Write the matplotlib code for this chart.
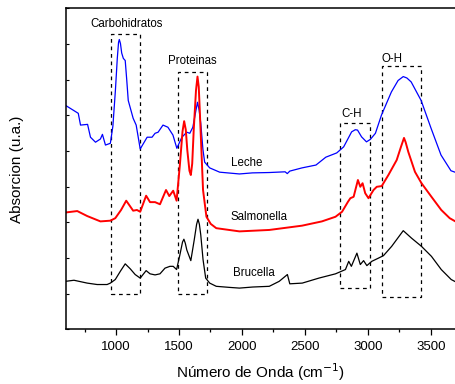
import matplotlib
matplotlib.use("Agg")
import matplotlib.pyplot as plt
from matplotlib.patches import Rectangle
from matplotlib.ticker import MultipleLocator

plt.rcParams['font.family'] = ['Liberation Sans', 'DejaVu Sans']

# Leche (blue)
leche_x = [600, 700, 718, 774, 797, 837, 876, 892, 916, 955, 975, 995, 1010, 1020, 1026,
           1035, 1045, 1058, 1073, 1085,
           1097, 1136, 1160, 1192, 1247, 1286, 1310, 1334, 1373, 1412, 1452, 1483,
           1523, 1562, 1586, 1610, 1635, 1647, 1660, 1673, 1690, 1704, 1744, 1823, 1980,
           2083, 2217, 2343, 2360, 2380, 2477, 2588, 2666, 2753, 2808, 2871, 2900, 2918,
           2950, 2989, 3020, 3060, 3108, 3187, 3240, 3281, 3310, 3344, 3423, 3502, 3581,
           3660, 3700]
leche_y = [6.28, 6.06, 5.73, 5.75, 5.39, 5.25, 5.34, 5.47, 5.17, 5.22, 5.70, 6.70, 7.60, 8.05,
           8.13, 8.02, 7.75, 7.60, 7.54, 7.00,
           6.42, 5.92, 5.73, 5.06, 5.39, 5.39, 5.50, 5.53, 5.73, 5.67, 5.45, 5.08,
           5.39, 5.53, 5.50, 5.67, 6.15, 6.37, 6.15, 5.78, 5.05, 4.69, 4.53, 4.41, 4.36,
           4.39, 4.40, 4.42, 4.37, 4.44, 4.53, 4.61, 4.83, 4.95, 5.12, 5.54, 5.60, 5.59,
           5.40, 5.26, 5.33, 5.50, 6.01, 6.66, 6.98, 7.09, 7.05, 6.94, 6.42, 5.64, 4.89,
           4.45, 4.40]

# Salmonella (red)
salm_x = [600, 692, 771, 876, 955, 994, 1040, 1081, 1136, 1166, 1192, 1239, 1270, 1310, 1349,
          1397, 1423, 1454, 1481, 1507, 1528, 1541, 1554, 1566, 1583, 1594, 1605, 1617,
          1635, 1647, 1657, 1665, 1691, 1718,
          1752, 1796, 1980, 2217, 2477, 2635, 2743, 2795, 2842, 2861, 2887, 2921, 2940,
          2958, 2979, 3005, 3045, 3071, 3110, 3163, 3229, 3263, 3287, 3300, 3321, 3374, 3426,
          3505, 3583, 3650, 3700]
salm_y = [3.28, 3.32, 3.18, 3.03, 3.05, 3.12, 3.35, 3.61, 3.33, 3.35, 3.30, 3.75, 3.57, 3.57, 3.51,
          3.91, 3.74, 3.89, 3.61, 4.61, 5.55, 5.84, 5.60, 5.03, 4.45, 4.33, 4.65, 5.59,
          6.70, 7.09, 6.80, 6.15, 3.91, 3.16,
          2.96, 2.84, 2.75, 2.79, 2.91, 3.03, 3.16, 3.30, 3.58, 3.68, 3.72, 4.19, 4.00,
          4.10, 3.82, 3.68, 3.91, 4.00, 4.02, 4.33, 4.75, 5.12, 5.37, 5.25, 4.98, 4.42, 4.10,
          3.72, 3.35, 3.12, 3.02]

# Brucella (black)
bruc_x = [600, 666, 771, 850, 929, 955, 994, 1034, 1073, 1113, 1152, 1192, 1239, 1270,
          1310, 1349, 1389, 1428, 1454, 1481, 1507, 1528, 1539, 1550, 1562, 1594, 1621,
          1640, 1651, 1662, 1673,
          1691, 1712, 1744, 1796, 1900, 1980, 2085, 2217, 2296, 2361, 2380, 2479, 2611,
          2743, 2822, 2848, 2869, 2913, 2940, 2966, 2992, 3031, 3084, 3124, 3189, 3281,
          3347, 3426, 3505, 3583, 3662, 3700]
bruc_y = [1.35, 1.38, 1.30, 1.26, 1.26, 1.30, 1.40, 1.63, 1.84, 1.70, 1.54, 1.44, 1.65, 1.56,
          1.53, 1.56, 1.72, 1.77, 1.77, 1.68, 2.09, 2.45, 2.53, 2.42, 2.23, 1.93, 2.51,
          2.95, 3.09, 2.95, 2.65,
          1.96, 1.44, 1.30, 1.21, 1.18, 1.16, 1.19, 1.21, 1.35, 1.54, 1.28, 1.30, 1.44,
          1.56, 1.68, 1.91, 1.77, 2.14, 1.82, 1.93, 1.79, 1.91, 2.00, 2.07, 2.33, 2.77,
          2.56, 2.33, 2.05, 1.68, 1.40, 1.33]

# Band regions
band_names = ["Carbohidratos", "Proteinas", "C-H", "O-H"]
band_x0 = [961, 1489, 2782, 3110]
band_x1 = [1192, 1722, 3019, 3426]
band_y0 = [1.00, 1.00, 1.16, 0.91]
band_y1 = [8.29, 7.23, 5.80, 7.38]
band_lx = [1087, 1604, 2874, 3195]
band_ly = [8.57, 7.54, 6.05, 7.59]

series_names = ["Leche", "Salmonella", "Brucella"]
series_lx = [2041, 2133, 2093]
series_ly = [4.68, 3.16, 1.58]

fig = plt.figure(figsize=(4.56, 3.84), dpi=100)
ax = fig.add_axes([0.144, 0.142, 0.856, 0.836])

ax.plot(leche_x, leche_y, color='#0000ff', lw=0.9)
ax.plot(salm_x, salm_y, color='#ff0000', lw=1.4)
ax.plot(bruc_x, bruc_y, color='black', lw=0.9)

for x0, x1, y0, y1 in zip(band_x0, band_x1, band_y0, band_y1):
    ax.add_patch(Rectangle((x0, y0), x1 - x0, y1 - y0, fill=False,
                           ls=(0, (3, 3)), lw=0.9, ec='black'))
for name, lx, ly in zip(band_names, band_lx, band_ly):
    ax.text(lx, ly, name, ha='center', va='center', fontsize=8.3)
for name, lx, ly in zip(series_names, series_lx, series_ly):
    ax.text(lx, ly, name, ha='center', va='center', fontsize=8.3)

ax.set_xlim(600, 3700)
ax.set_ylim(0, 9)
ax.xaxis.set_major_locator(MultipleLocator(500))
ax.xaxis.set_minor_locator(MultipleLocator(250))
ax.yaxis.set_major_locator(MultipleLocator(1))
ax.tick_params(axis='x', which='major', direction='out', length=4.5, width=0.9,
               labelsize=9.5)
ax.tick_params(axis='x', which='minor', direction='out', length=2.5, width=0.9)
ax.tick_params(axis='y', which='major', direction='in', length=2.5, width=0.8,
               labelleft=False)
ax.spines['right'].set_visible(False)
for s in ['left', 'bottom', 'top']:
    ax.spines[s].set_linewidth(1.1)

ax.set_xlabel('Número de Onda (cm$^{-1}$)', fontsize=11, labelpad=6)
ax.set_ylabel('Absorcion (u.a.)', fontsize=11, labelpad=30)

fig.savefig('out.png', dpi=100)
